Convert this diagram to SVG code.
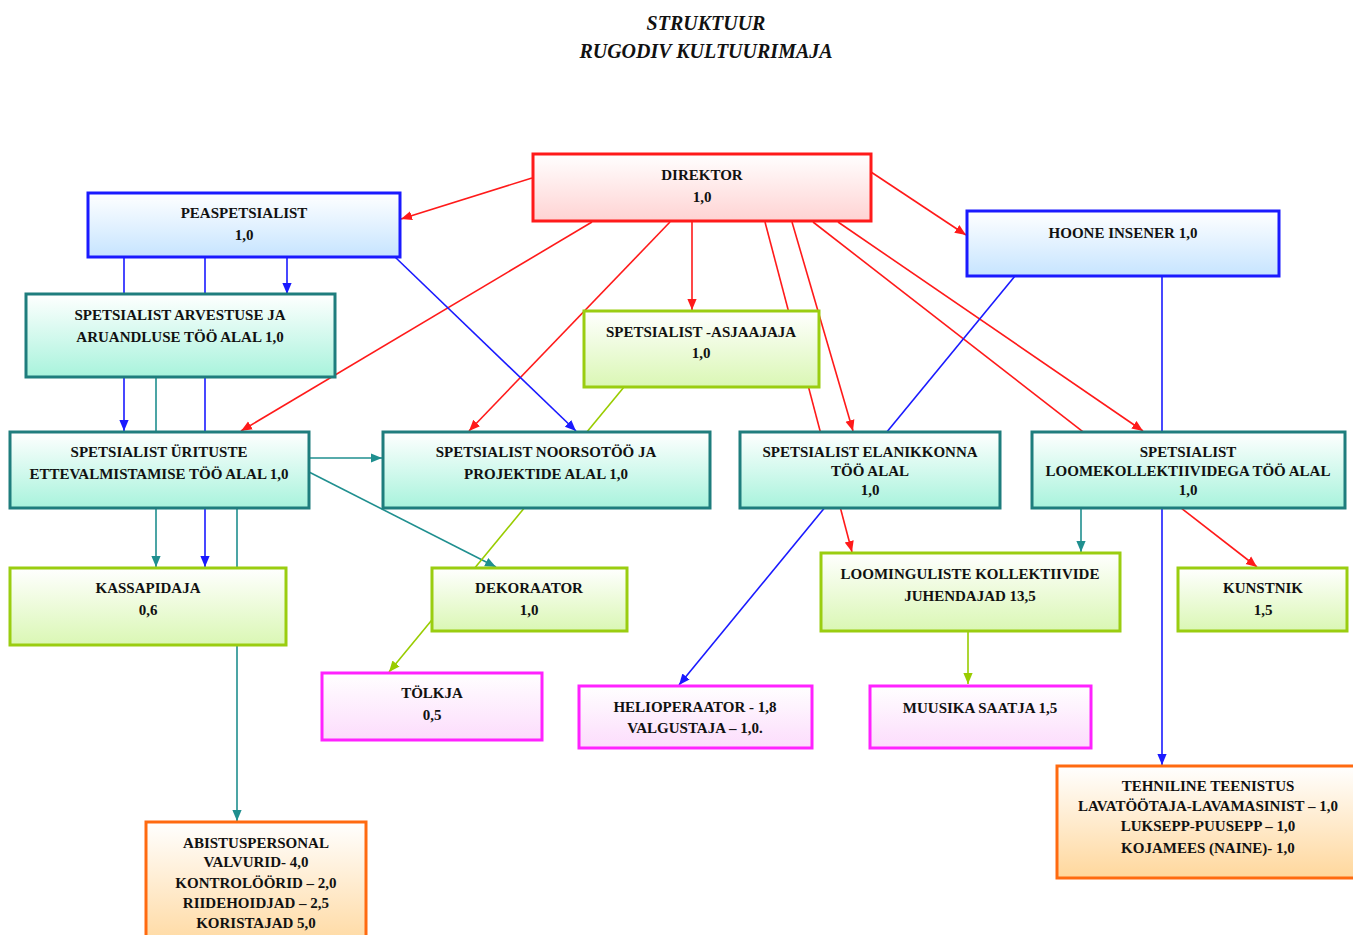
<svg xmlns="http://www.w3.org/2000/svg" width="1353" height="935" viewBox="0 0 1353 935">
<style>
text{font-family:"Liberation Serif","Times New Roman",serif;font-weight:bold;font-size:15px;fill:#111;text-anchor:middle}
.title{font-size:20px;font-style:italic}
.box{stroke-width:3}
.red{stroke:#ff1a1a;fill:url(#gRed)}
.blue{stroke:#1a1aff;fill:url(#gBlue)}
.teal{stroke:#1e7d7d;fill:url(#gTeal)}
.green{stroke:#9acd10;fill:url(#gGreen)}
.mag{stroke:#ff22ff;fill:url(#gMag)}
.orange{stroke:#ff6a10;fill:url(#gOrange)}
.c{fill:none;stroke-width:1.6}
.cr{stroke:#ff1a1a;marker-end:url(#aR)}
.cb{stroke:#1a1aff;marker-end:url(#aB)}
.ct{stroke:#1f8f8f;marker-end:url(#aT)}
.cg{stroke:#99cc00;marker-end:url(#aG)}
</style>
<defs>
<linearGradient id="gRed" x1="0" y1="0" x2="0" y2="1"><stop offset="0" stop-color="#ffffff"/><stop offset="1" stop-color="#ffd3d3"/></linearGradient>
<linearGradient id="gBlue" x1="0" y1="0" x2="0" y2="1"><stop offset="0" stop-color="#ffffff"/><stop offset="1" stop-color="#c6e4ff"/></linearGradient>
<linearGradient id="gTeal" x1="0" y1="0" x2="0" y2="1"><stop offset="0" stop-color="#ffffff"/><stop offset="1" stop-color="#a8f3dc"/></linearGradient>
<linearGradient id="gGreen" x1="0" y1="0" x2="0" y2="1"><stop offset="0" stop-color="#ffffff"/><stop offset="1" stop-color="#daf7b4"/></linearGradient>
<linearGradient id="gMag" x1="0" y1="0" x2="0" y2="1"><stop offset="0" stop-color="#ffffff"/><stop offset="1" stop-color="#fcdcfc"/></linearGradient>
<linearGradient id="gOrange" x1="0" y1="0" x2="0" y2="1"><stop offset="0" stop-color="#ffffff"/><stop offset="1" stop-color="#ffd79c"/></linearGradient>
<marker id="aR" viewBox="0 0 10 10" refX="10" refY="5" markerWidth="11" markerHeight="11" markerUnits="userSpaceOnUse" orient="auto"><path d="M0,0.8 L10,5 L0,9.2 z" fill="#ff1a1a"/></marker>
<marker id="aB" viewBox="0 0 10 10" refX="10" refY="5" markerWidth="11" markerHeight="11" markerUnits="userSpaceOnUse" orient="auto"><path d="M0,0.8 L10,5 L0,9.2 z" fill="#1a1aff"/></marker>
<marker id="aT" viewBox="0 0 10 10" refX="10" refY="5" markerWidth="11" markerHeight="11" markerUnits="userSpaceOnUse" orient="auto"><path d="M0,0.8 L10,5 L0,9.2 z" fill="#1f8f8f"/></marker>
<marker id="aG" viewBox="0 0 10 10" refX="10" refY="5" markerWidth="11" markerHeight="11" markerUnits="userSpaceOnUse" orient="auto"><path d="M0,0.8 L10,5 L0,9.2 z" fill="#99cc00"/></marker>
</defs>
<rect width="1353" height="935" fill="#ffffff"/>
<g id="title">
<text class="title" x="706" y="30">STRUKTUUR</text>
<text class="title" x="706" y="58">RUGODIV KULTUURIMAJA</text>
</g>
<g id="connectors">
<path class="c cr" d="M532,178 L401,219"/>
<path class="c cr" d="M871,172 L966,235"/>
<path class="c cr" d="M692,221 L692,310"/>
<path class="c cr" d="M592,222 L241,431"/>
<path class="c cr" d="M670,222 L469,431"/>
<path class="c cr" d="M765,222 L852,552"/>
<path class="c cr" d="M792,222 L853,431"/>
<path class="c cr" d="M838,222 L1143,431"/>
<path class="c cr" d="M813,222 L1257,567"/>
<path class="c cb" d="M287,257 L287,294"/>
<path class="c cb" d="M124,257 L124,431"/>
<path class="c cb" d="M205,257 L205,567"/>
<path class="c cb" d="M395,257 L576,431"/>
<path class="c cb" d="M1015,276 L679,685"/>
<path class="c cb" d="M1162,276 L1162,765"/>
<path class="c ct" d="M156,377 L156,567"/>
<path class="c ct" d="M237,508 L237,821"/>
<path class="c ct" d="M309,458 L382,458"/>
<path class="c ct" d="M309,472 L496,567"/>
<path class="c ct" d="M1081,508 L1081,552"/>
<path class="c cg" d="M624,387 L389,672"/>
<path class="c cg" d="M968,631 L968,684"/>
</g>
<g id="direktor"><rect class="box red" x="533" y="154" width="338" height="67"/><text x="702" y="180">DIREKTOR</text><text x="702" y="202">1,0</text></g>
<g id="peaspetsialist"><rect class="box blue" x="88" y="193" width="312" height="64"/><text x="244" y="218">PEASPETSIALIST</text><text x="244" y="240">1,0</text></g>
<g id="hoone"><rect class="box blue" x="967" y="211" width="312" height="65"/><text x="1123" y="238">HOONE INSENER 1,0</text></g>
<g id="arvestus"><rect class="box teal" x="26" y="294" width="309" height="83"/><text x="180" y="320">SPETSIALIST ARVESTUSE JA</text><text x="180" y="342">ARUANDLUSE TÖÖ ALAL 1,0</text></g>
<g id="asjaajaja"><rect class="box green" x="584" y="311" width="235" height="76"/><text x="701" y="337">SPETSIALIST -ASJAAJAJA</text><text x="701" y="358">1,0</text></g>
<g id="uritused"><rect class="box teal" x="10" y="432" width="299" height="76"/><text x="159" y="457">SPETSIALIST ÜRITUSTE</text><text x="159" y="479">ETTEVALMISTAMISE TÖÖ ALAL 1,0</text></g>
<g id="noorsotoo"><rect class="box teal" x="383" y="432" width="327" height="76"/><text x="546" y="457">SPETSIALIST NOORSOTÖÖ JA</text><text x="546" y="479">PROJEKTIDE ALAL 1,0</text></g>
<g id="elanikkond"><rect class="box teal" x="740" y="432" width="260" height="76"/><text x="870" y="457">SPETSIALIST ELANIKKONNA</text><text x="870" y="476">TÖÖ ALAL</text><text x="870" y="495">1,0</text></g>
<g id="loomekollektiivid"><rect class="box teal" x="1032" y="432" width="313" height="76"/><text x="1188" y="457">SPETSIALIST</text><text x="1188" y="476">LOOMEKOLLEKTIIVIDEGA TÖÖ ALAL</text><text x="1188" y="495">1,0</text></g>
<g id="kassapidaja"><rect class="box green" x="10" y="568" width="276" height="77"/><text x="148" y="593">KASSAPIDAJA</text><text x="148" y="615">0,6</text></g>
<g id="dekoraator"><rect class="box green" x="432" y="568" width="195" height="63"/><text x="529" y="593">DEKORAATOR</text><text x="529" y="615">1,0</text></g>
<g id="juhendajad"><rect class="box green" x="821" y="553" width="299" height="78"/><text x="970" y="579">LOOMINGULISTE KOLLEKTIIVIDE</text><text x="970" y="601">JUHENDAJAD 13,5</text></g>
<g id="kunstnik"><rect class="box green" x="1178" y="568" width="169" height="63"/><text x="1263" y="593">KUNSTNIK</text><text x="1263" y="615">1,5</text></g>
<g id="tolkja"><rect class="box mag" x="322" y="673" width="220" height="67"/><text x="432" y="698">TÖLKJA</text><text x="432" y="720">0,5</text></g>
<g id="helioperaator"><rect class="box mag" x="579" y="686" width="233" height="62"/><text x="695" y="712">HELIOPERAATOR - 1,8</text><text x="695" y="733">VALGUSTAJA – 1,0.</text></g>
<g id="muusika"><rect class="box mag" x="870" y="686" width="221" height="62"/><text x="980" y="713">MUUSIKA SAATJA 1,5</text></g>
<g id="abistuspersonal"><rect class="box orange" x="146" y="822" width="220" height="130"/><text x="256" y="848">ABISTUSPERSONAL</text><text x="256" y="867">VALVURID- 4,0</text><text x="256" y="888">KONTROLÖÖRID – 2,0</text><text x="256" y="908">RIIDEHOIDJAD – 2,5</text><text x="256" y="928">KORISTAJAD 5,0</text></g>
<g id="tehniline"><rect class="box orange" x="1057" y="766" width="302" height="112"/><text x="1208" y="791">TEHNILINE TEENISTUS</text><text x="1208" y="811">LAVATÖÖTAJA-LAVAMASINIST – 1,0</text><text x="1208" y="831">LUKSEPP-PUUSEPP – 1,0</text><text x="1208" y="853">KOJAMEES (NAINE)- 1,0</text></g>
</svg>
